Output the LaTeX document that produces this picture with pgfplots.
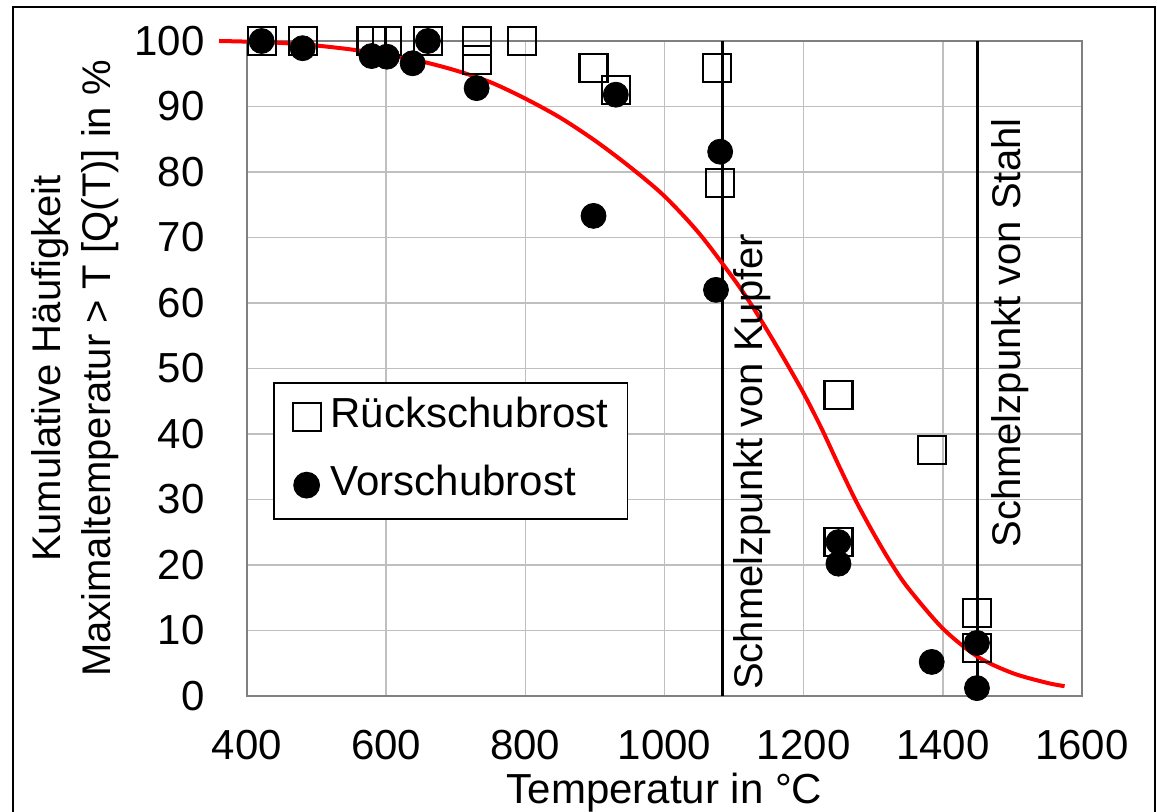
\documentclass[border=0pt]{standalone}
\usepackage{fontspec}
\setmainfont{Liberation Sans}
\usepackage{pgfplots}
\pgfplotsset{compat=1.18}
\definecolor{gridgray}{RGB}{191,191,191}
\definecolor{axgray}{RGB}{128,128,128}
\begin{document}
\begin{tikzpicture}
\begin{axis}[
  name=ax,
  scale only axis,
  width=417.5pt, height=327.5pt,
  xmin=400, xmax=1600, ymin=0, ymax=100,
  xtick={400,600,...,1600},
  ytick={0,10,...,100},
  grid=major,
  major grid style={color=gridgray, line width=0.75pt},
  axis line style={color=axgray, line width=0.75pt},
  major tick length=0pt,
  clip=false,
  /pgf/number format/assume math mode=true,
  /pgf/number format/1000 sep={},
  tick label style={font=\fontsize{21}{25}\selectfont},
  xticklabel style={anchor=north, inner sep=0pt, yshift=-17pt},
  yticklabel style={anchor=east, inner sep=0pt, xshift=-21pt},
  xlabel={Temperatur in °C},
  xlabel style={font=\fontsize{21}{25}\selectfont, at={(axis description cs:0.5,-0.1176)}, anchor=north, inner sep=0pt},
  ylabel={Kumulative Häufigkeit\\Maximaltemperatur > T [Q(T)] in \%},
  ylabel style={font=\fontsize{20}{25}\selectfont, align=center, at={(axis description cs:-0.206,0.5)}, anchor=center, inner sep=0pt},
  legend style={at={(axis cs:437,47.9)}, anchor=north west, draw=black, line width=0.9pt,
    font=\fontsize{21}{25}\selectfont, inner xsep=9.5pt, inner ysep=8pt,
    row sep=16pt, column sep=5pt,
    nodes={inner sep=0pt, text height=14pt, text depth=4pt}},
  legend cell align=left,
  legend image code/.code={\path[draw=none,fill=none] (0pt,-7pt) rectangle (14pt,7pt); \draw[#1] plot coordinates {(7pt,0pt)};},
]
% melting point lines
\addplot[black, line width=1.5pt, forget plot] coordinates {(1083,0) (1083,100)};
\addplot[black, line width=1.5pt, forget plot] coordinates {(1450,0) (1450,100)};
% Rueckschubrost
\addplot[only marks, mark=square, mark size=7pt, mark options={draw=black, line width=1.1pt, fill=none}] coordinates {
(421,100)(480,100)(579,100)(601,100)(660,100)(730,100)(730,97.1)(795,100)
(898,95.9)(930,92.5)(1075,95.9)(1080,78.3)(1250,46.0)(1250,23.5)(1384,37.6)
(1449,12.7)(1449,7.3)};
\addlegendentry{Rückschubrost}
% Vorschubrost
\addplot[only marks, mark=*, mark size=6.25pt, mark options={draw=black, fill=black}] coordinates {
(421,100)(480,98.9)(579,97.7)(601,97.6)(638,96.6)(660,100)(730,92.8)(898,73.3)
(930,91.8)(1074,62.0)(1080,83.1)(1250,23.5)(1250,20.2)(1384,5.2)(1449,8.1)(1449,1.2)};
\addlegendentry{Vorschubrost}
% fitted curve
\addplot[red, line width=2pt, smooth, no marks, forget plot] coordinates {
(360,100)(400,99.9)(450,99.7)(500,99.3)(550,98.7)(600,97.9)(650,96.9)(700,95.5)
(750,93.7)(800,91.2)(850,88.3)(900,84.8)(950,80.8)(1000,76.3)(1050,70.6)
(1100,63.6)(1125,59.7)(1150,55.4)(1175,50.9)(1200,46.2)(1225,41.0)(1250,35.3)
(1275,29.8)(1300,24.9)(1325,20.4)(1350,16.5)(1400,10.3)
(1450,6.0)(1500,3.5)(1550,2.0)(1575,1.5)};
\node[rotate=90, anchor=north west, inner sep=0pt, font=\fontsize{20}{24}\selectfont] at (axis cs:1099,0.9) {Schmelzpunkt von Kupfer};
\node[rotate=90, anchor=north west, inner sep=0pt, font=\fontsize{20}{24}\selectfont] at (axis cs:1470,22.6) {Schmelzpunkt von Stahl};
\end{axis}
\pgfresetboundingbox
\path[use as bounding box] ([xshift=-123.5pt,yshift=-58pt]ax.south west) rectangle ([xshift=455pt,yshift=348pt]ax.south west);
\draw[line width=0.75pt] ([xshift=-117pt,yshift=-65pt]ax.south west) rectangle ([xshift=454pt,yshift=344.5pt]ax.south west);
\end{tikzpicture}
\end{document}
